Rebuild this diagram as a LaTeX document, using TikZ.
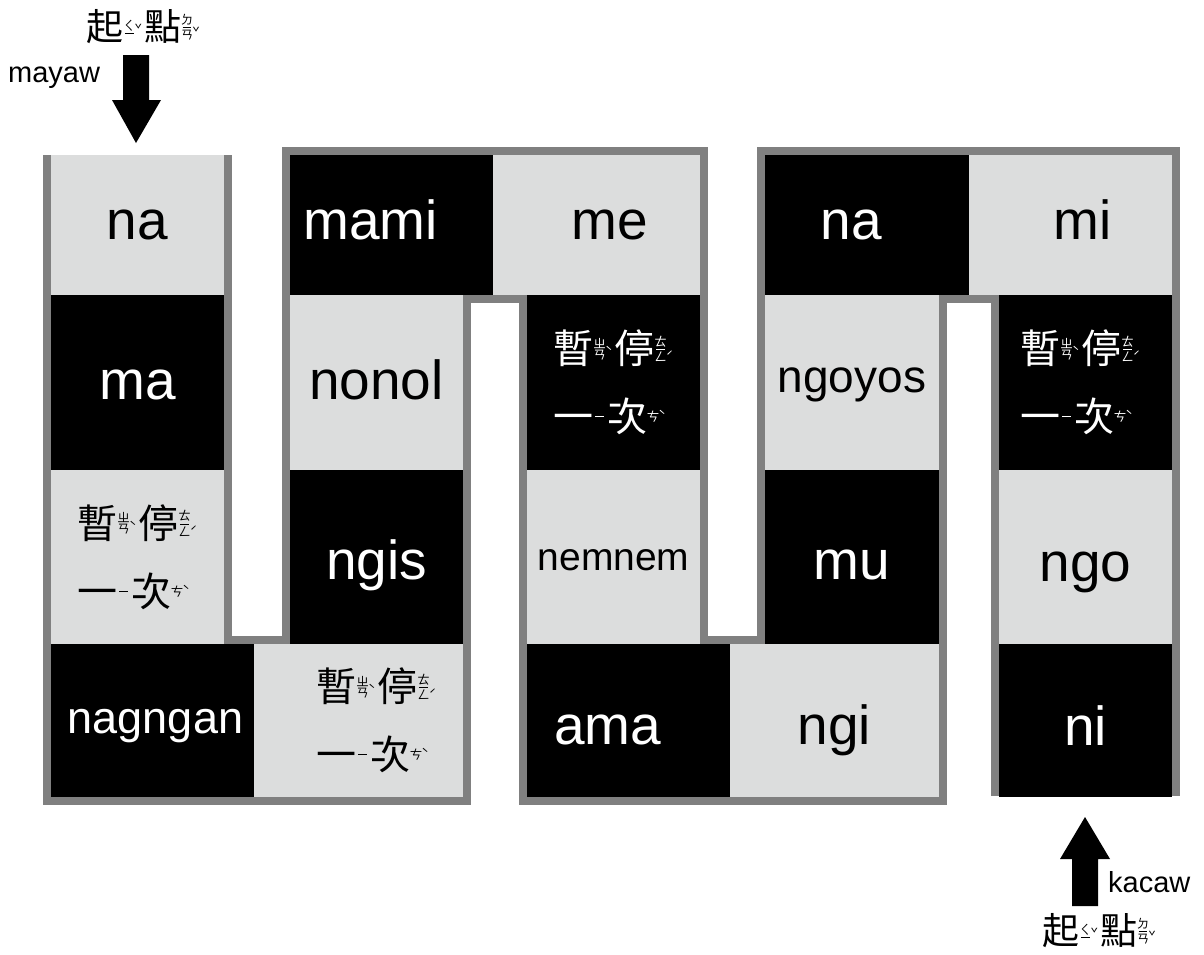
\documentclass[tikz,border=0pt]{standalone}
\usepackage{fontspec}
\setmainfont{Liberation Sans}
\newfontfamily\cjk{Noto Sans CJK TC}
\definecolor{lite}{RGB}{220,221,221}
\definecolor{wallc}{RGB}{128,128,128}
\newsavebox\zybox
\newcommand\zl[1]{\hbox to 0.85em{\hss#1\hss}}
\newcommand\zi{\hbox to 0.85em{\hss\vrule width 0.7em height 0.04em depth 0.04em\hss}}
\newcommand\zyfont{\fontsize{12.5}{12.5}\selectfont}
\newcommand\zy[4]{#1\kern0.02em\sbox\zybox{\vbox{\zyfont\offinterlineskip #2}}\raisebox{\dimexpr0.37em-(\ht\zybox-\dp\zybox)/2\relax}{\usebox\zybox}\raisebox{\dimexpr0.37em+#4\relax}{\zyfont #3}}
\newcommand\zanting[1][0pt]{\hspace*{#1}\zy{暫}{\zl{ㄓ}\kern1.5pt\zl{ㄢ}}{ˋ}{-8pt}\kern2pt\zy{停}{\zl{ㄊ}\kern2pt\zi\kern2pt\zl{ㄥ}}{ˊ}{-13pt}\\\hspace*{#1}\zy{一}{\zi}{}{0pt}\kern2pt\zy{次}{\zl{ㄘ}}{ˋ}{-4pt}}
\newcommand\qidian{\zy{起}{\zl{ㄑ}\kern2pt\zi}{ˇ}{-7pt}\kern2pt\zy{點}{\zl{ㄉ}\kern2pt\zi\kern2pt\zl{ㄢ}}{ˇ}{-10pt}}
\tikzset{
  cell/.style={inner sep=0pt, outer sep=0pt, anchor=north west, text height=28.6pt, text depth=0pt, font=\fontsize{55}{60}\selectfont},
  litecell/.style={cell, fill=lite, text=black},
  darkcell/.style={cell, fill=black, text=white},
  pausetext/.style={font=\cjk\fontsize{40}{68}\selectfont, align=left, text height=, text depth=},
  wall/.style={draw=wallc, line width=8pt, miter limit=10, line join=miter, line cap=butt},
  bigarrow/.style={fill=black},
  lab/.style={inner sep=0pt, font=\fontsize{29}{30}\selectfont},
  qdlab/.style={inner sep=0pt, font=\cjk\fontsize{37}{40}\selectfont}
}
\begin{document}
\begin{tikzpicture}[x=1pt,y=-1pt]
\useasboundingbox (0,0) rectangle (1204,954);
% walls
\draw[wall] (47,155) -- (47,801) -- (467,801) -- (467,299) -- (523,299) -- (523,801) -- (943,801) -- (943,299) -- (995,299) -- (995,796);
\draw[wall] (228,155) -- (228,640) -- (286,640) -- (286,151) -- (704,151) -- (704,640) -- (761,640) -- (761,151) -- (1176,151) -- (1176,796);
% column 1
\node[litecell, minimum width=173pt, minimum height=140pt] (na1) at (51,155) {na};
\node[darkcell, minimum width=173pt, minimum height=175pt, text height=34.6pt] (ma) at (51,295) {ma};
\node[litecell, pausetext, minimum width=173pt, minimum height=174pt] (p1) at (51,470) {\zanting};
\node[darkcell, minimum width=203pt, minimum height=153pt, font=\fontsize{45}{50}\selectfont, text height=25.4pt] (nagngan) at (51,644) {\hspace*{6pt}nagngan};
\node[litecell, pausetext, minimum width=209pt, minimum height=153pt] (p2) at (254,644) {\zanting[36pt]};
% column 2
\node[darkcell, minimum width=203pt, minimum height=140pt] (mami) at (290,155) {mami\hspace*{42pt}};
\node[litecell, minimum width=207pt, minimum height=140pt] (me) at (493,155) {\hspace*{26pt}me};
\node[litecell, minimum width=173pt, minimum height=175pt, text height=34.6pt] (nonol) at (290,295) {nonol};
\node[darkcell, minimum width=173pt, minimum height=174pt, text height=44.6pt] (ngis) at (290,470) {ngis};
% column 3
\node[darkcell, pausetext, minimum width=173pt, minimum height=175pt] (p3) at (527,295) {\zanting};
\node[litecell, minimum width=173pt, minimum height=174pt, font=\fontsize{39}{44}\selectfont, text height=26.3pt] (nemnem) at (527,470) {nemnem};
\node[darkcell, minimum width=203pt, minimum height=153pt, text height=48.6pt] (ama) at (527,644) {ama\hspace*{42pt}};
\node[litecell, minimum width=209pt, minimum height=153pt, text height=48.6pt] (ngi) at (730,644) {ngi};
% column 4
\node[darkcell, minimum width=204pt, minimum height=140pt] (na2) at (765,155) {na\hspace*{32pt}};
\node[litecell, minimum width=203pt, minimum height=140pt] (mi) at (969,155) {\hspace*{24pt}mi};
\node[litecell, minimum width=174pt, minimum height=175pt, font=\fontsize{46}{50}\selectfont, text height=19.9pt] (ngoyos) at (765,295) {ngoyos};
\node[darkcell, minimum width=174pt, minimum height=174pt, text height=44.6pt] (mu) at (765,470) {mu};
% column 5
\node[darkcell, pausetext, minimum width=173pt, minimum height=175pt] (p4) at (999,295) {\zanting[-10pt]};
\node[litecell, minimum width=173pt, minimum height=174pt, text height=48.6pt] (ngo) at (999,470) {ngo};
\node[darkcell, minimum width=173pt, minimum height=153pt, text height=50.6pt] (ni) at (999,644) {ni};
% start marks
\node[qdlab] (qd1) at (143,27) {\qidian};
\node[lab, anchor=base west] (mayaw) at (8,82) {mayaw};
\fill[bigarrow] (123,55) -- (149,55) -- (149,100) -- (161,100) -- (136,143) -- (112,100) -- (123,100) -- cycle;
\fill[bigarrow] (1072,906) -- (1098,906) -- (1098,859) -- (1110,859) -- (1085,817) -- (1060,859) -- (1072,859) -- cycle;
\node[lab, anchor=base west] (kacaw) at (1108,892) {kacaw};
\node[qdlab] (qd2) at (1099,931) {\qidian};
\end{tikzpicture}
\end{document}
